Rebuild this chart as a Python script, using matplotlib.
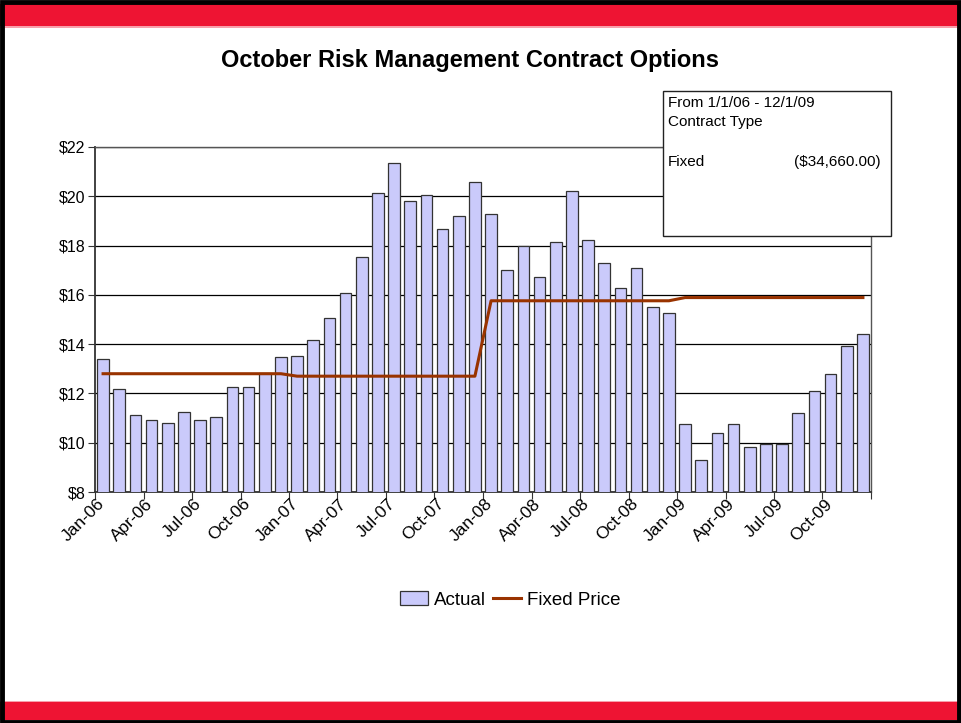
import numpy as np
import matplotlib
matplotlib.use("Agg")
import matplotlib.pyplot as plt
from matplotlib.patches import Rectangle, Patch
from matplotlib.lines import Line2D

plt.rcParams['font.family'] = ['Liberation Sans', 'DejaVu Sans']

# Monthly data, Jan-06 .. Dec-09
months = ["Jan-06","Feb-06","Mar-06","Apr-06","May-06","Jun-06","Jul-06","Aug-06","Sep-06","Oct-06","Nov-06","Dec-06",
          "Jan-07","Feb-07","Mar-07","Apr-07","May-07","Jun-07","Jul-07","Aug-07","Sep-07","Oct-07","Nov-07","Dec-07",
          "Jan-08","Feb-08","Mar-08","Apr-08","May-08","Jun-08","Jul-08","Aug-08","Sep-08","Oct-08","Nov-08","Dec-08",
          "Jan-09","Feb-09","Mar-09","Apr-09","May-09","Jun-09","Jul-09","Aug-09","Sep-09","Oct-09","Nov-09","Dec-09"]
actual = [13.38, 12.18, 11.11, 10.92, 10.81, 11.26, 10.92, 11.04, 12.28, 12.28, 12.84, 13.46,
          13.53, 14.16, 15.05, 16.07, 17.55, 20.14, 21.34, 19.81, 20.05, 18.69, 19.20, 20.57,
          19.28, 17.01, 17.99, 16.74, 18.14, 20.22, 18.23, 17.30, 16.28, 17.07, 15.49, 15.27,
          10.77, 9.28, 10.41, 10.77, 9.84, 9.95, 9.95, 11.20, 12.08, 12.78, 13.93, 14.42]
fixed = [12.80, 12.80, 12.80, 12.80, 12.80, 12.80, 12.80, 12.80, 12.80, 12.80, 12.80, 12.80,
         12.70, 12.70, 12.70, 12.70, 12.70, 12.70, 12.70, 12.70, 12.70, 12.70, 12.70, 12.70,
         15.76, 15.76, 15.76, 15.76, 15.76, 15.76, 15.76, 15.76, 15.76, 15.76, 15.76, 15.76,
         15.89, 15.89, 15.89, 15.89, 15.89, 15.89, 15.89, 15.89, 15.89, 15.89, 15.89, 15.89]
yticks = [8, 10, 12, 14, 16, 18, 20, 22]

W, H = 961, 723
fig = plt.figure(figsize=(W/100., H/100.), dpi=100)

# page frame: red bands + black border
fig.add_artist(Rectangle((0, 1-26/H), 1, 22/H, transform=fig.transFigure, color='#EE1433', lw=0))
fig.add_artist(Rectangle((0, 1-27.5/H), 1, 1.5/H, transform=fig.transFigure, color='#F7A0AC', lw=0))
fig.add_artist(Rectangle((0, 3/H), 1, 18/H, transform=fig.transFigure, color='#EE1433', lw=0))
fig.add_artist(Rectangle((0, 21/H), 1, 1.5/H, transform=fig.transFigure, color='#F7A0AC', lw=0))
fig.add_artist(Rectangle((1.5/W, 1.5/H), 1-3.5/W, 1-3.5/H, transform=fig.transFigure,
                         fill=False, edgecolor='black', lw=3.5))

ax = fig.add_axes([95/W, 1-492/H, 776/W, 345/H])
x = np.arange(len(months))
ax.bar(x, actual, width=0.72, bottom=0, color='#CACAFB', edgecolor='#333333', linewidth=0.9, zorder=3)
ax.plot(x, fixed, color='#993300', lw=2.2, zorder=4)

ax.set_xlim(-0.5, len(months)-0.5)
ax.set_ylim(8, 22)
ax.set_yticks(yticks)
ax.set_yticklabels(["$%d" % v for v in yticks], fontsize=11.5)
ax.yaxis.grid(True, color='black', lw=0.9, zorder=1)
ax.set_axisbelow(True)

# tick marks between categories, labels every third month (nudged a bit left like Excel)
ax.set_xticks(np.arange(-0.5, len(months), 3))
ax.set_xticklabels([])
ax.set_xticks(x[::3] - 0.4, minor=True)
ax.set_xticklabels(months[::3], minor=True, rotation=45, ha='right', va='top',
                   rotation_mode='anchor', fontsize=12.5)
ax.tick_params(axis='x', which='major', length=5, direction='out', color='#333333')
ax.tick_params(axis='x', which='minor', length=0, pad=3)
ax.tick_params(axis='y', length=5, direction='out', color='#333333', pad=2)
for s in ['left', 'bottom']:
    ax.spines[s].set_color('#333333')
    ax.spines[s].set_linewidth(1.3)
for s in ['right', 'top']:
    ax.spines[s].set_color('#555555')
    ax.spines[s].set_linewidth(1.0)

fig.text(470/W, 1-60/H, "October Risk Management Contract Options", ha='center', va='center',
         fontsize=17, fontweight='bold')

# info box
fig.add_artist(Rectangle((663/W, 1-236/H), 228/W, 145/H, transform=fig.transFigure,
                         facecolor='white', edgecolor='#222222', lw=1.0, zorder=5))
fig.text(668/W, 1-103/H, "From 1/1/06 - 12/1/09", fontsize=11, va='center', zorder=6)
fig.text(668/W, 1-122/H, "Contract Type", fontsize=11, va='center', zorder=6)
fig.text(668/W, 1-162/H, "Fixed", fontsize=11, va='center', zorder=6)
fig.text(881/W, 1-162/H, "($34,660.00)", fontsize=11, va='center', ha='right', zorder=6)

handles = [Patch(facecolor='#CACAFB', edgecolor='#333333', lw=0.9),
           Line2D([], [], color='#993300', lw=2.2)]
fig.legend(handles, ["Actual", "Fixed Price"], loc='center', bbox_to_anchor=(510/W, 1-600/H),
           ncol=2, frameon=False, fontsize=13.5, handlelength=1.5, handletextpad=0.3, columnspacing=0.4)

fig.savefig("out.png", dpi=100)
